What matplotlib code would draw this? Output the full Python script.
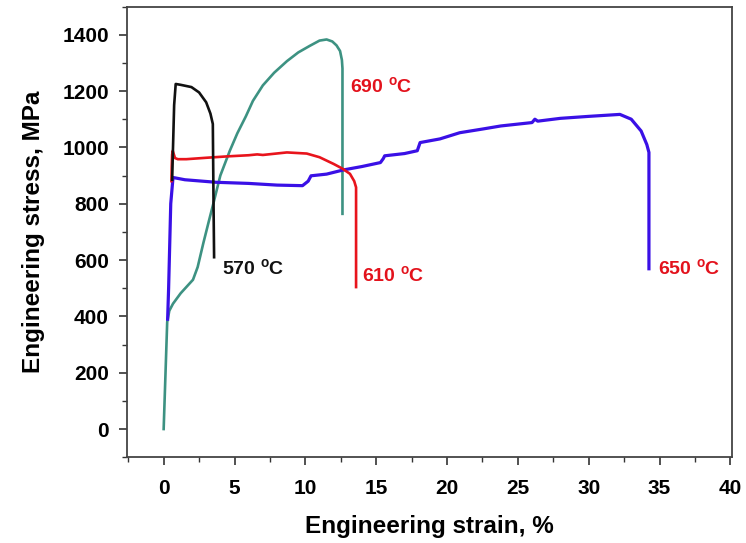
import matplotlib
matplotlib.use("Agg")
import matplotlib.pyplot as plt
from matplotlib.ticker import MultipleLocator

plt.rcParams['font.family'] = ['Liberation Sans', 'DejaVu Sans']
plt.rcParams['font.weight'] = 'bold'
plt.rcParams['mathtext.default'] = 'regular'

# Engineering strain (%) / stress (MPa) for each test temperature
strain_570 = [0.60, 0.66, 0.74, 0.85, 1.20, 1.96, 2.50, 3.00, 3.30, 3.47, 3.52, 3.56]
stress_570 = [885, 1000, 1150, 1225, 1222, 1214, 1195, 1160, 1120, 1083, 800, 610]

strain_610 = [0.55, 0.57, 0.60, 0.64, 0.80, 1.00, 1.60, 3.0, 4.5, 6.0, 6.6, 7.0, 8.7,
              10.1, 11.0, 12.0, 12.6, 13.15, 13.45, 13.58, 13.58]
stress_610 = [880, 930, 975, 988, 962, 958, 958, 963, 968, 972, 975, 973, 982,
              978, 965, 941, 925, 906, 880, 858, 504]

strain_650 = [0.28, 0.35, 0.50, 0.66, 1.5, 3.7, 6.0, 8.0, 9.8, 10.2, 10.4, 11.5, 12.7,
              14.0, 15.3, 15.5, 15.6, 17.0, 17.9, 18.1, 19.5, 20.9, 22.5, 23.8, 26.0,
              26.2, 26.4, 28.0, 30.0, 32.2, 33.0, 33.7, 34.1, 34.25, 34.25]
stress_650 = [390, 500, 800, 893, 885, 876, 872, 866, 864, 880, 899, 905, 920,
              932, 946, 960, 970, 978, 988, 1017, 1030, 1052, 1065, 1076, 1088,
              1100, 1093, 1103, 1110, 1117, 1100, 1058, 1010, 982, 569]

strain_690 = [0.00, 0.25, 0.40, 0.66, 1.20, 2.07, 2.40, 2.8, 3.2, 3.5, 4.0, 4.67, 5.2,
              5.8, 6.3, 7.0, 7.8, 8.7, 9.5, 10.3, 11.0, 11.5, 11.9, 12.2, 12.45,
              12.58, 12.62, 12.62]
stress_690 = [0, 380, 420, 445, 482, 530, 575, 660, 740, 799, 900, 988, 1050,
              1110, 1165, 1220, 1265, 1306, 1337, 1360, 1379, 1383, 1376, 1362, 1342,
              1310, 1280, 764]

temps = ['570', '610', '650', '690']
line_colors = {'570': '#111111', '610': '#e8141c', '650': '#3a10e6', '690': '#3d9282'}
label_colors = {'570': '#111111', '610': '#e3121c', '650': '#e3121c', '690': '#e3121c'}
label_xy = {'570': (4.1, 570), '610': (14.0, 548), '650': (34.9, 570), '690': (13.15, 1218)}

fig = plt.figure(figsize=(7.46, 5.43), dpi=100)
ax = fig.add_axes([0.170, 0.158, 0.811, 0.830])

ax.plot(strain_690, stress_690, color=line_colors['690'], lw=1.9, zorder=2)
ax.plot(strain_650, stress_650, color=line_colors['650'], lw=2.3, zorder=3)
ax.plot(strain_610, stress_610, color=line_colors['610'], lw=1.9, zorder=4)
ax.plot(strain_570, stress_570, color=line_colors['570'], lw=1.9, zorder=5)

for t in temps:
    x, y = label_xy[t]
    ax.text(x, y, t + r' $^{o}$C', color=label_colors[t], fontsize=14,
            fontweight='bold', va='center', ha='left')

ax.set_xlim(-2.6, 40.1)
ax.set_ylim(-100, 1500)
ax.xaxis.set_major_locator(MultipleLocator(5))
ax.xaxis.set_minor_locator(MultipleLocator(2.5))
ax.yaxis.set_major_locator(MultipleLocator(200))
ax.yaxis.set_minor_locator(MultipleLocator(100))
ax.tick_params(which='major', direction='out', length=6, width=1.2,
               labelsize=15, color='#333333')
ax.tick_params(axis='x', which='major', pad=10)
ax.tick_params(axis='y', which='major', pad=7)
ax.tick_params(which='minor', direction='out', length=3.5, width=1.0, color='#333333')
for lab in ax.get_xticklabels() + ax.get_yticklabels():
    lab.set_fontweight('bold')
for s in ax.spines.values():
    s.set_linewidth(1.3)
    s.set_color('#444444')

ax.set_xlabel('Engineering strain, %', fontsize=17.5, fontweight='bold', labelpad=12)
ax.set_ylabel('Engineering stress, MPa', fontsize=17.5, fontweight='bold', labelpad=12)

fig.savefig('out.png', dpi=100)
